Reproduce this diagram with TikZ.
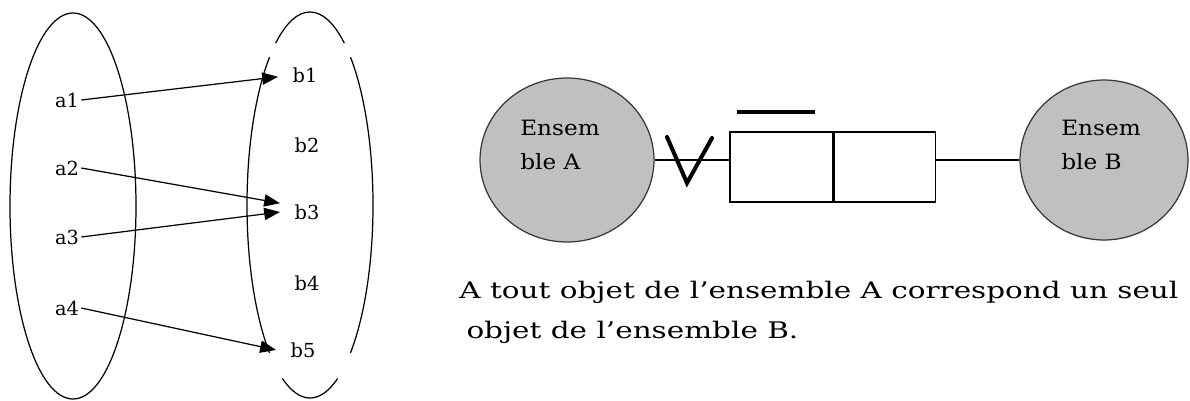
\documentclass[tikz,border=0pt]{standalone}
\usepackage{fontspec}
\setmainfont{DejaVu Serif}
\newfontfamily\widefont[FakeStretch=1.29]{DejaVu Serif}
\newfontfamily\setfont[FakeStretch=1.1]{DejaVu Serif}
\usetikzlibrary{arrows.meta,positioning,shapes.geometric}
\definecolor{setgray}{RGB}{192,192,192}
\definecolor{rimgray}{RGB}{55,55,55}

\begin{document}
\begin{tikzpicture}[x=0.02cm, y=0.02cm, font=\fontsize{11}{13}\selectfont, line width=0.7pt,
    elem/.style={inner sep=1pt},
    maparrow/.style={-{Triangle[length=9pt, width=7pt]}},
    setnode/.style={ellipse, draw=rimgray, fill=setgray, inner sep=0pt},
    setlabel/.style={align=left, font=\setfont\fontsize{12}{19}\selectfont},
    cellbox/.style={draw, minimum width=2.06cm, minimum height=1.4cm, inner sep=0pt}]
    \useasboundingbox (0,0) rectangle (1190,400);
    % the two sets, with their elements
    \draw (73,194) ellipse [x radius=63, y radius=193];
    \foreach \s/\e in {57/123, 130/230, 244/296, 310/410}
        \draw ([shift={(\s:63 and 193)}]310,195) arc[start angle=\s, end angle=\e, x radius=63, y radius=193];
    \node[elem] (a1) at (67,300) {a1};
    \node[elem] (a2) at (67,232) {a2};
    \node[elem] (a3) at (67,163) {a3};
    \node[elem] (a4) at (67,92) {a4};
    \node[elem] (b1) at (305,325) {b1};
    \node[elem] (b2) at (307,255) {b2};
    \node[elem] (b3) at (307,188) {b3};
    \node[elem] (b4) at (307,117) {b4};
    \node[elem] (b5) at (303,50) {b5};
    \draw[maparrow] (a1.east) -- ([xshift=-7pt, yshift=-1pt]b1.west);
    \draw[maparrow] (a2.east) -- ([xshift=-7pt, yshift=5pt]b3.west);
    \draw[maparrow] (a3.east) -- ([xshift=-7pt]b3.west);
    \draw[maparrow] (a4.east) -- ([xshift=-7pt]b5.west);
    % schema
    \node[setnode, minimum width=3.48cm, minimum height=3.28cm] (setA) at (567,240) {};
    \node[setnode, minimum width=3.36cm, minimum height=3.2cm] (setB) at (1104,240) {};
    \node[setlabel] (lblA) at (560,255) {Ensem\\ble A};
    \node[setlabel] (lblB) at (1101,255) {Ensem\\ble B};
    \node[cellbox] (boxL) at (781.5,233) {};
    \node[cellbox] (boxR) at (884,233) {};
    \draw[line width=1.6pt] (boxL.north east) -- (boxL.south east);
    \draw (setA.east) -- (setA.east -| boxL.west);
    \draw (boxR.east |- setB.west) -- (setB.west);
    \draw[line width=2.3pt, line cap=round] (667,263) -- (687,217) -- (712,262);
    \draw[line width=2.8pt] (737,288) -- (815,288);
    \node[align=left, anchor=base west, font=\widefont\fontsize{13}{22.5}\selectfont] (caption) at (453,62)
        {A tout objet de l’ensemble A correspond un seul\\\hspace*{4pt}objet de l’ensemble B.};
\end{tikzpicture}
\end{document}
